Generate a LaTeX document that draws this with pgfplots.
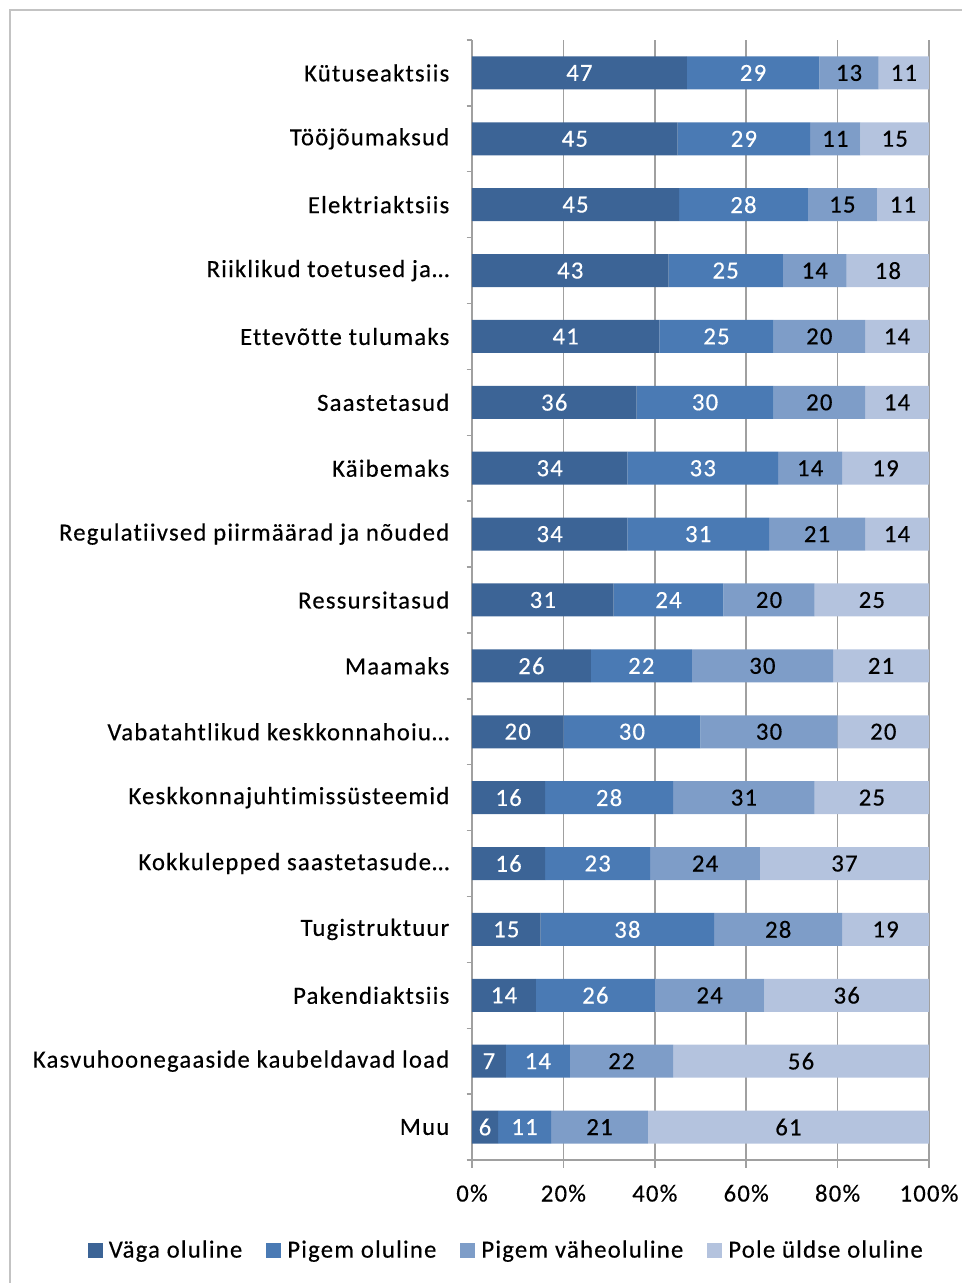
\documentclass[border=0pt]{standalone}
\usepackage{pgfplots}
\pgfplotsset{compat=1.18}
\usepackage{pgfplotstable}
\usepackage{fontspec}
\setmainfont{Carlito}
\newfontfamily\lblfam{Carlito}[LetterSpace=5, FakeBold=0.4, Ligatures={NoCommon,NoContextual}, RawFeature={-liga;-clig}]
\definecolor{c1}{RGB}{60,100,150}
\definecolor{c2}{RGB}{74,122,180}
\definecolor{c3}{RGB}{126,157,200}
\definecolor{c4}{RGB}{180,195,222}
\definecolor{gridc}{RGB}{160,160,160}
\definecolor{framec}{RGB}{195,195,195}
\newcommand{\lblfont}{\lblfam\fontsize{18.5}{22}\selectfont}

\pgfplotstableread{
id a b c d la lb lc ld
16 47 29 13 11 47 29 13 11
15 45 29 11 15 45 29 11 15
14 45.3 28.2 15.1 11.4 45 28 15 11
13 43 25 14 18 43 25 14 18
12 41 25 20 14 41 25 20 14
11 36 30 20 14 36 30 20 14
10 34 33 14 19 34 33 14 19
9 34 31 21 14 34 31 21 14
8 31 24 20 25 31 24 20 25
7 26 22.1 30.9 21 26 22 30 21
6 20 30 30 20 20 30 30 20
5 16 28 31 25 16 28 31 25
4 16 23 24 37 16 23 24 37
3 15 38 28 19 15 38 28 19
2 14 26 24 36 14 26 24 36
1 7.4 14 22.6 56 7 14 22 56
0 5.7 11.6 21.2 61.5 6 11 21 61
}\data

\begin{document}
\begin{tikzpicture}
\useasboundingbox (0pt,0pt) rectangle (721.5pt,962.25pt);
\draw[framec, line width=1.1pt] (7.5pt,0pt) -- (7.5pt,954.75pt) -- (721.5pt,954.75pt);
\begin{axis}[
  at={(354pt,92.25pt)}, anchor=south west,
  width=342.75pt, height=840pt, scale only axis,
  xbar stacked, bar width=24.75pt,
  xmin=0, xmax=100, ymin=-0.5, ymax=16.5,
  axis x line*=bottom, axis y line*=left,
  axis line style={draw=gridc, line width=1.1pt},
  xtick={0,20,...,100},
  xticklabel={\pgfmathprintnumber{\tick}\%},
  xmajorgrids, grid style={draw=gridc, line width=1.1pt},
  ytick={0,...,16},
  yticklabels={Muu,Kasvuhoonegaaside kaubeldavad load,Pakendiaktsiis,Tugistruktuur,Kokkulepped saastetasude…,Keskkonnajuhtimissüsteemid,Vabatahtlikud keskkonnahoiu…,Maamaks,Ressursitasud,Regulatiivsed piirmäärad ja nõuded,Käibemaks,Saastetasud,Ettevõtte tulumaks,Riiklikud toetused ja…,Elektriaktsiis,Tööjõumaksud,Kütuseaktsiis},
  minor ytick={-0.5,0.5,...,16.5},
  tick align=outside, major tick length=6pt, minor tick length=4pt,
  major y tick style={draw=none},
  minor y tick style={draw=gridc, line width=1.1pt},
  major x tick style={draw=gridc, line width=1.1pt},
  ticklabel style={font=\lblfont, text=black},
  yticklabel style={xshift=-7.5pt},
  xticklabel style={yshift=-9pt},
  /pgf/number format/assume math mode=true,
  point meta=explicit,
  nodes near coords,
  legend columns=4,
  legend style={at={(axis description cs:0.0744,-0.0804)}, anchor=center, draw=none, fill=none, font=\lblfont,
    nodes={inner xsep=1pt},
    /tikz/every odd column/.append style={column sep=3.5pt},
    /tikz/every even column/.append style={column sep=17pt}},
  legend image code/.code={\fill[#1] (0pt,-5.6pt) rectangle (11.25pt,5.6pt);},
]
\addplot[fill=c1, draw=none,
  nodes near coords style={text=white, font=\lblfont, anchor=center}]
  table[x=a, y=id, meta=la] {\data};
\addplot[fill=c2, draw=none,
  nodes near coords style={text=white, font=\lblfont, anchor=center}]
  table[x=b, y=id, meta=lb] {\data};
\addplot[fill=c3, draw=none,
  nodes near coords style={text=black, font=\lblfont, anchor=center}]
  table[x=c, y=id, meta=lc] {\data};
\addplot[fill=c4, draw=none,
  nodes near coords style={text=black, font=\lblfont, anchor=center}]
  table[x=d, y=id, meta=ld] {\data};
\legend{Väga oluline, Pigem oluline, Pigem väheoluline, Pole üldse oluline}
\end{axis}
\end{tikzpicture}
\end{document}
